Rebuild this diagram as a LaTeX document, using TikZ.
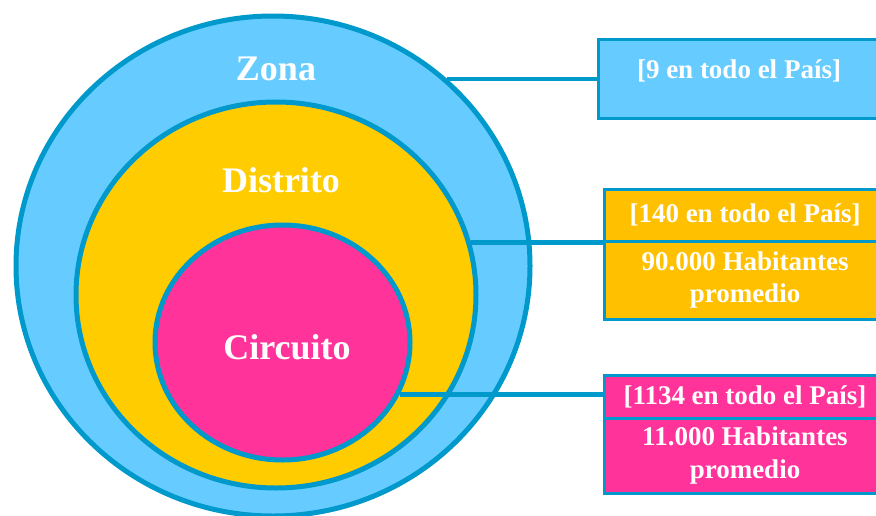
\documentclass[tikz,border=0pt]{standalone}
\usepackage{fontspec}
\setmainfont{Liberation Serif}
\usetikzlibrary{shapes.geometric,shadows}
\definecolor{skyfill}{HTML}{66CCFF}
\definecolor{rim}{HTML}{0099CC}
\definecolor{gold}{HTML}{FFCC00}
\definecolor{amber}{HTML}{FFC000}
\definecolor{rose}{HTML}{FF3399}
\begin{document}
\begin{tikzpicture}[x=1pt,y=-1pt,
  ring/.style={ellipse, draw=rim, line width=5pt, inner sep=0pt,
    drop shadow={shadow xshift=1.5pt, shadow yshift=-2pt, opacity=.22, fill=black}},
  title/.style={text=white, inner sep=0pt, font=\bfseries\fontsize{36}{40}\selectfont},
  tag/.style={rectangle, draw=rim, line width=3pt, text=white, align=center,
    inner sep=0pt, minimum width=282pt, font=\bfseries\fontsize{27}{32.5}\selectfont},
  link/.style={draw=rim, line width=4.5pt}]

\useasboundingbox (0,0) rectangle (876,515);

% nested regions
\node[ring, fill=skyfill, minimum width=514pt, minimum height=500pt] (zona) at (273,266) {};
\node[ring, fill=gold, minimum width=400pt, minimum height=386pt] (dist) at (276,295) {};
\node[ring, fill=rose, minimum width=255pt, minimum height=235pt] (circ) at (282.5,342.5) {};

\node[title] (tzona) at (276,68.5) {Zona};
\node[title] (tdist) at (281,180) {Distrito};
\node[title] (tcirc) at (287,347) {Circuito};

% information boxes
\node[tag, fill=skyfill, minimum width=282pt, minimum height=79pt] (b1) at (739,78.5)
  {\smash{[9 en todo el País]}};
\node[tag, fill=amber, minimum height=52pt] (b2a) at (745,215) {[140 en todo el País]};
\node[tag, fill=amber, minimum height=78pt] (b2b) at (745,280) {90.000 Habitantes\\promedio};
\node[tag, fill=rose, minimum height=43pt] (b3a) at (745,396.5) {[1134 en todo el País]};
\node[tag, fill=rose, minimum height=75pt] (b3b) at (745,455.5) {11.000 Habitantes\\promedio};

% connectors
\draw[link] (zona.47.3) -- (zona.47.3 -| b1.west);
\draw[link] (dist.15.7) -- (dist.15.7 -| b2a.west);
\draw[link] (circ.-24.7) -- (circ.-24.7 -| b3a.west);
\end{tikzpicture}
\end{document}
